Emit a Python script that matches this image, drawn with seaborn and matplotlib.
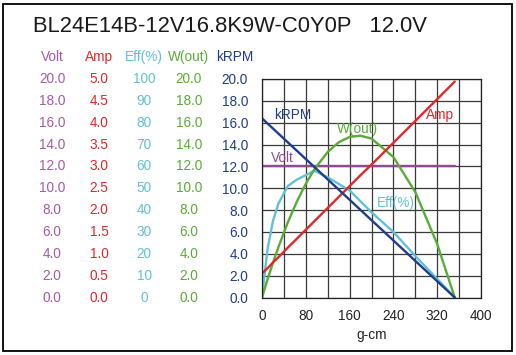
import matplotlib
matplotlib.use("Agg")
import matplotlib.pyplot as plt
import matplotlib.transforms as mtransforms
import seaborn as sns
import pandas as pd
from matplotlib.patches import Rectangle

sns.set_theme(style="white")
plt.rcParams['font.family'] = ['Liberation Sans', 'DejaVu Sans']

# ---- data ----
title = "BL24E14B-12V16.8K9W-C0Y0P   12.0V"
torque = [0, 10, 20, 30, 47, 64, 80, 96, 120, 140, 160, 180, 200, 240, 280, 320, 352]
krpm   = [16.4, 15.93, 15.47, 15.00, 14.21, 13.42, 12.67, 11.93, 10.81, 9.88, 8.95, 8.01, 7.08, 5.22, 3.35, 1.49, 0.0]
amp    = [0.55, 0.67, 0.80, 0.92, 1.14, 1.35, 1.55, 1.75, 2.05, 2.30, 2.55, 2.80, 3.04, 3.54, 4.04, 4.54, 4.94]
wout   = [0.0, 1.64, 3.18, 4.62, 6.86, 8.82, 10.41, 11.76, 13.32, 14.20, 14.70, 14.81, 14.55, 12.86, 9.65, 4.90, 0.0]
volt   = [12.0] * len(torque)
eff    = [0, 22, 35, 43, 51, 54, 56, 58, 55, 52, 49, 44, 39, 30, 19, 8.5, 0]

volt_ticks = ["20.0", "18.0", "16.0", "14.0", "12.0", "10.0", "8.0", "6.0", "4.0", "2.0", "0.0"]
amp_ticks  = ["5.0", "4.5", "4.0", "3.5", "3.0", "2.5", "2.0", "1.5", "1.0", "0.5", "0.0"]
eff_ticks  = ["100", "90", "80", "70", "60", "50", "40", "30", "20", "10", "0"]
w_ticks    = ["20.0", "18.0", "16.0", "14.0", "12.0", "10.0", "8.0", "6.0", "4.0", "2.0", "0.0"]
krpm_ticks = [20, 18, 16, 14, 12, 10, 8, 6, 4, 2, 0]
x_ticks    = [0, 80, 160, 240, 320, 400]
x_label    = "g-cm"

c_volt = "#8e4a92"
c_volt_txt = "#a45ba3"
c_amp = "#e3262b"
c_eff = "#62c1d3"
c_w = "#5aac36"
c_krpm = "#1f3d8c"

# scale factors onto the shared 0-20 axis
amp_scale = 20 / float(amp_ticks[0])
eff_scale = 20 / float(eff_ticks[0])

df = pd.DataFrame({
    "torque": torque,
    "kRPM": krpm,
    "Amp": [a * amp_scale for a in amp],
    "W(out)": wout,
    "Volt": volt,
    "Eff": [e * eff_scale for e in eff],
})

W, H = 516, 355
fig = plt.figure(figsize=(W / 100, H / 100), dpi=100)
fig.patch.set_facecolor("white")

# outer frame
fig.add_artist(Rectangle((3 / W, (H - 351) / H), 509 / W, 347 / H,
                         transform=fig.transFigure, fill=False,
                         edgecolor="black", linewidth=1.3))

ax = fig.add_axes([262 / W, (H - 297.5) / H, 219 / W, 218.5 / H])

ax.set_xlim(0, 400)
ax.set_ylim(0, 20)
ax.grid(True, color="#3a3a3a", linewidth=0.9)
ax.set_axisbelow(True)
for s in ax.spines.values():
    s.set_color("#222222")
    s.set_linewidth(0.9)

lw = 1.7
sns.lineplot(data=df, x="torque", y="Volt", color=c_volt, lw=lw, ax=ax)
sns.lineplot(data=df, x="torque", y="Eff", color=c_eff, lw=lw, ax=ax)
sns.lineplot(data=df, x="torque", y="W(out)", color=c_w, lw=lw, ax=ax)
sns.lineplot(data=df, x="torque", y="Amp", color=c_amp, lw=lw, ax=ax)
sns.lineplot(data=df, x="torque", y="kRPM", color=c_krpm, lw=lw, ax=ax)

fs = 9.8
# tick labels
ax.set_xticks(range(0, 401, 40))
ax.set_xticklabels([str(v) if v in x_ticks else "" for v in range(0, 401, 40)],
                   fontsize=fs, color="#222222")
ax.set_yticks(krpm_ticks)
ax.set_yticklabels(["%.1f" % v for v in krpm_ticks], fontsize=fs, color=c_krpm)
ax.tick_params(axis="both", length=0)
ax.tick_params(axis="y", pad=10)
ax.tick_params(axis="x", pad=8)
ax.set_xlabel(x_label, fontsize=fs, color="#222222", labelpad=4)
ax.set_ylabel("")

# in-plot labels
ax.text(56, 16.7, "kRPM", color=c_krpm, fontsize=fs, ha="center", va="center")
ax.text(174, 15.45, "W(out)", color=c_w, fontsize=fs, ha="center", va="center")
ax.text(325, 16.7, "Amp", color=c_amp, fontsize=fs, ha="center", va="center")
ax.text(37, 12.8, "Volt", color=c_volt, fontsize=fs, ha="center", va="center")
ax.text(244, 8.66, "Eff(%)", color=c_eff, fontsize=fs, ha="center", va="center")

# title
fig.text(33 / W, (H - 27) / H, title, fontsize=15.8, color="#1a1a1a",
         ha="left", va="center")

# extra scale columns on the left
cols = [
    (52, "Volt", volt_ticks, c_volt_txt),
    (99, "Amp", amp_ticks, c_amp),
    (144, "Eff(%)", eff_ticks, c_eff),
    (189, "W(out)", w_ticks, c_w),
]
trans = mtransforms.blended_transform_factory(fig.transFigure, ax.transData)
for xc, head, labels, col in cols:
    fig.text(xc / W, (H - 57) / H, head, fontsize=fs, color=col, ha="center", va="center")
    for yv, lab in zip(krpm_ticks, labels):
        ax.text(xc / W, yv, lab, transform=trans, fontsize=fs, color=col,
                ha="center", va="center", clip_on=False)
fig.text(235 / W, (H - 57) / H, "kRPM", fontsize=fs, color=c_krpm, ha="center", va="center")

fig.savefig("out.png", dpi=100, facecolor="white")
